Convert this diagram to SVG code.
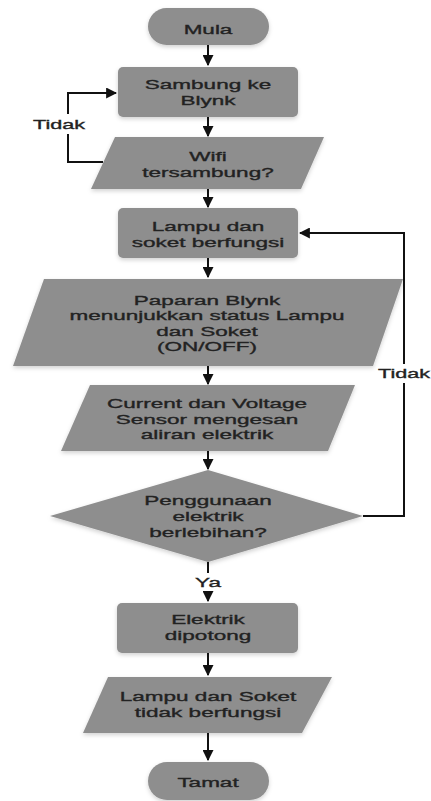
<svg xmlns="http://www.w3.org/2000/svg" width="431" height="801" viewBox="0 0 431 801">
<style>
.s{fill:#8e8e8e;filter:url(#sh)}
.t{font-family:"Liberation Sans",Arial,sans-serif;font-size:13.5px;fill:#222;stroke:#222;stroke-width:0.35;text-anchor:middle}
.c{fill:none;stroke:#111;stroke-width:2}
</style>
<defs>
<filter id="sh" x="-10%" y="-20%" width="120%" height="150%">
<feDropShadow dx="0" dy="2" stdDeviation="2" flood-color="#000" flood-opacity="0.18"/>
</filter>
<marker id="a" viewBox="0 0 10 10" refX="9" refY="5" markerWidth="5.5" markerHeight="5.5" orient="auto">
<path d="M0,0 L10,5 L0,10 Z" fill="#111"/>
</marker>
</defs>
<rect width="431" height="801" fill="#fff"/>
<g id="connectors">
<path class="c" d="M208,45 V65" marker-end="url(#a)"/>
<path class="c" d="M208,117 V136" marker-end="url(#a)"/>
<path class="c" d="M103,162 H68 V93 H116" marker-end="url(#a)"/>
<path class="c" d="M208,189 V207" marker-end="url(#a)"/>
<path class="c" d="M208,258 V277" marker-end="url(#a)"/>
<path class="c" d="M208,366 V384" marker-end="url(#a)"/>
<path class="c" d="M208,451 V469" marker-end="url(#a)"/>
<path class="c" d="M363,516 H404 V233 H300" marker-end="url(#a)"/>
<path class="c" d="M208,562 V601" marker-end="url(#a)"/>
<path class="c" d="M208,653 V675" marker-end="url(#a)"/>
<path class="c" d="M208,733 V760" marker-end="url(#a)"/>
<rect x="30" y="114" width="58" height="20" fill="#fff"/>
<text class="t" transform="translate(59,0) scale(1.6,1)"><tspan x="0" y="129">Tidak</tspan></text>
<rect x="376" y="364" width="55" height="19" fill="#fff"/>
<text class="t" transform="translate(404,0) scale(1.6,1)"><tspan x="0" y="378">Tidak</tspan></text>
<rect x="190" y="573" width="36" height="18" fill="#fff"/>
<text class="t" transform="translate(208,0) scale(1.667,1)"><tspan x="0" y="587">Ya</tspan></text>
</g>
<g id="mula">
<rect class="s" x="148" y="8" width="121" height="37" rx="18.5"/>
<text class="t" transform="translate(208,0) scale(1.667,1)"><tspan x="0" y="34">Mula</tspan></text>
</g>
<g id="sambung">
<rect class="s" x="118" y="67" width="180" height="50" rx="5"/>
<text class="t" transform="translate(208,0) scale(1.667,1)"><tspan x="0" y="89.5">Sambung ke</tspan><tspan x="0" y="105">Blynk</tspan></text>
</g>
<g id="wifi">
<polygon class="s" points="115,137 324,137 301,189 91,189"/>
<text class="t" transform="translate(208,0) scale(1.667,1)"><tspan x="0" y="161">Wifi</tspan><tspan x="0" y="177">tersambung?</tspan></text>
</g>
<g id="lampu">
<rect class="s" x="118" y="208" width="180" height="50" rx="5"/>
<text class="t" transform="translate(208,0) scale(1.667,1)"><tspan x="0" y="231.5">Lampu dan</tspan><tspan x="0" y="247">soket berfungsi</tspan></text>
</g>
<g id="paparan">
<polygon class="s" points="44,279 403,279 373,366 13,366"/>
<text class="t" transform="translate(207,0) scale(1.667,1)"><tspan x="0" y="305">Paparan Blynk</tspan><tspan x="0" y="320.5">menunjukkan status Lampu</tspan><tspan x="0" y="336">dan Soket</tspan><tspan x="0" y="351.5">(ON/OFF)</tspan></text>
</g>
<g id="sensor">
<polygon class="s" points="90,385 355,385 328,451 61,451"/>
<text class="t" transform="translate(207,0) scale(1.667,1)"><tspan x="0" y="408.5">Current dan Voltage</tspan><tspan x="0" y="424">Sensor mengesan</tspan><tspan x="0" y="439.5">aliran elektrik</tspan></text>
</g>
<g id="keputusan">
<polygon class="s" points="208,470 363,516 208,562 50,516"/>
<text class="t" transform="translate(208,0) scale(1.667,1)"><tspan x="0" y="505">Penggunaan</tspan><tspan x="0" y="521">elektrik</tspan><tspan x="0" y="537">berlebihan?</tspan></text>
</g>
<g id="dipotong">
<rect class="s" x="117" y="603" width="181" height="50" rx="5"/>
<text class="t" transform="translate(208,0) scale(1.667,1)"><tspan x="0" y="624">Elektrik</tspan><tspan x="0" y="640">dipotong</tspan></text>
</g>
<g id="tidakberfungsi">
<polygon class="s" points="108,677 332,677 302,733 83,733"/>
<text class="t" transform="translate(208,0) scale(1.667,1)"><tspan x="0" y="701.5">Lampu dan Soket</tspan><tspan x="0" y="717">tidak berfungsi</tspan></text>
</g>
<g id="tamat">
<rect class="s" x="148" y="762" width="121" height="38" rx="19"/>
<text class="t" transform="translate(208,0) scale(1.667,1)"><tspan x="0" y="787">Tamat</tspan></text>
</g>
</svg>
